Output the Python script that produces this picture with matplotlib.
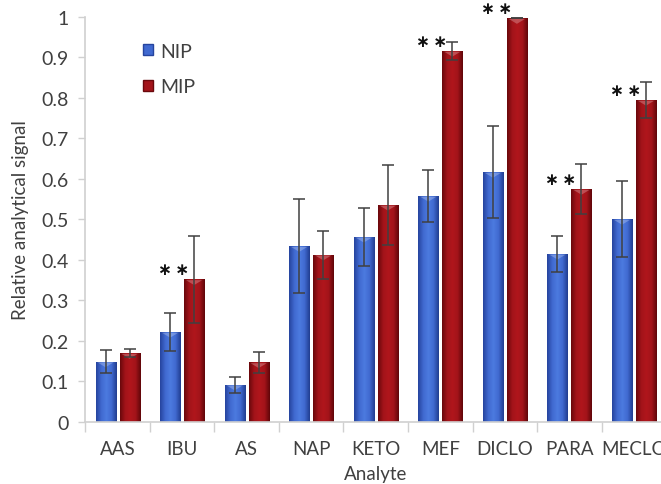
import numpy as np
import matplotlib
matplotlib.use("Agg")
import matplotlib.pyplot as plt
from matplotlib.colors import LinearSegmentedColormap
from matplotlib.patches import Patch

# data
analytes = ["AAS", "IBU", "AS", "NAP", "KETO", "MEF", "DICLO", "PARA", "MECLO"]
nip = [0.149, 0.222, 0.092, 0.434, 0.457, 0.558, 0.617, 0.415, 0.501]
nip_err = [0.028, 0.048, 0.020, 0.116, 0.072, 0.065, 0.114, 0.045, 0.094]
mip = [0.170, 0.352, 0.147, 0.413, 0.536, 0.916, 0.997, 0.575, 0.795]
mip_err = [0.009, 0.107, 0.026, 0.059, 0.098, 0.022, 0.0, 0.062, 0.045]
significant = ["IBU", "MEF", "DICLO", "PARA", "MECLO"]
y_ticks = [0, 0.1, 0.2, 0.3, 0.4, 0.5, 0.6, 0.7, 0.8, 0.9, 1]
y_tick_labels = ["0", "0.1", "0.2", "0.3", "0.4", "0.5", "0.6", "0.7", "0.8", "0.9", "1"]

plt.rcParams["font.family"] = ["Lato", "DejaVu Sans"]

fig = plt.figure(figsize=(6.61, 4.85), dpi=100)
ax = fig.add_axes([0.129, 0.128, 0.879, 0.835])

x = np.arange(len(analytes))
w = 0.31
off = 0.186

blue_cm = LinearSegmentedColormap.from_list(
    "b", ["#26449e", "#4069d0", "#4c7be0", "#4069d0", "#213d90"])
red_cm = LinearSegmentedColormap.from_list(
    "r", ["#6a080c", "#a3141a", "#b0161c", "#a3141a", "#600609"])
grad = np.linspace(0, 1, 64).reshape(1, -1)


def shaded_bars(xs, vals, base, cmap):
    bars = ax.bar(xs, vals, w, color=base, edgecolor="none", zorder=2)
    for b in bars:
        x0, y0 = b.get_x(), b.get_y()
        im = ax.imshow(grad, cmap=cmap, aspect="auto", zorder=2.1,
                       extent=[x0, x0 + b.get_width(), y0, y0 + b.get_height()])
        im.set_clip_path(b)
        # small lighter bevel at the top
        h = b.get_height()
        if h > 0.02:
            ax.fill([x0 + 0.03, x0 + b.get_width() - 0.03, x0 + b.get_width() / 2],
                    [y0 + h - 0.002, y0 + h - 0.002, y0 + h - 0.014],
                    color="white", alpha=0.25, lw=0, zorder=2.2)
    return bars


shaded_bars(x - off, nip, "#4069d0", blue_cm)
shaded_bars(x + off, mip, "#a3141a", red_cm)

ax.errorbar(x - off, nip, yerr=nip_err, fmt="none", ecolor="#404040",
            elinewidth=1.1, capsize=4, capthick=1.1, zorder=3)
ax.errorbar(x + off, mip, yerr=mip_err, fmt="none", ecolor="#404040",
            elinewidth=1.1, capsize=4, capthick=1.1, zorder=3)

for name in significant:
    i = analytes.index(name)
    ax.text(x[i] - 0.13, mip[i] + 0.025, "\u2217\u2009\u2217", ha="center", va="center",
            fontsize=12, fontweight="bold", color="#111111", zorder=4,
            family="DejaVu Sans", clip_on=False)

ax.set_xlim(-0.5, len(analytes) - 0.5)
ax.set_ylim(0, 1)
ax.set_yticks(y_ticks)
ax.set_yticklabels(y_tick_labels)
ax.set_xticks(x)
ax.set_xticklabels(analytes)
ax.set_xticks(np.arange(len(analytes) + 1) - 0.5, minor=True)
ax.tick_params(axis="x", which="major", length=0, pad=13, labelsize=13.5, colors="#404040")
ax.tick_params(axis="x", which="minor", length=7, width=1, color="#d0d0d0")
ax.tick_params(axis="y", length=5, width=1, color="#d0d0d0", labelsize=14,
               labelcolor="#404040", pad=7)

for s in ["top", "right"]:
    ax.spines[s].set_visible(False)
for s in ["left", "bottom"]:
    ax.spines[s].set_color("#d0d0d0")
    ax.spines[s].set_linewidth(1.2)

ax.set_xlabel("Analyte", fontsize=13.5, color="#404040", labelpad=6)
ax.set_ylabel("Relative analytical signal", fontsize=13.5, color="#404040", labelpad=9)

handles = [Patch(facecolor="#4069d0", edgecolor="#26449e"),
           Patch(facecolor="#a3141a", edgecolor="#6a080c")]
ax.legend(handles, ["NIP", "MIP"], loc="upper left", bbox_to_anchor=(0.07, 0.98),
          frameon=False, fontsize=14, labelspacing=0.95, handlelength=0.5,
          handleheight=0.5, handletextpad=0.35, labelcolor="#404040")

fig.savefig("out.png", dpi=100)
